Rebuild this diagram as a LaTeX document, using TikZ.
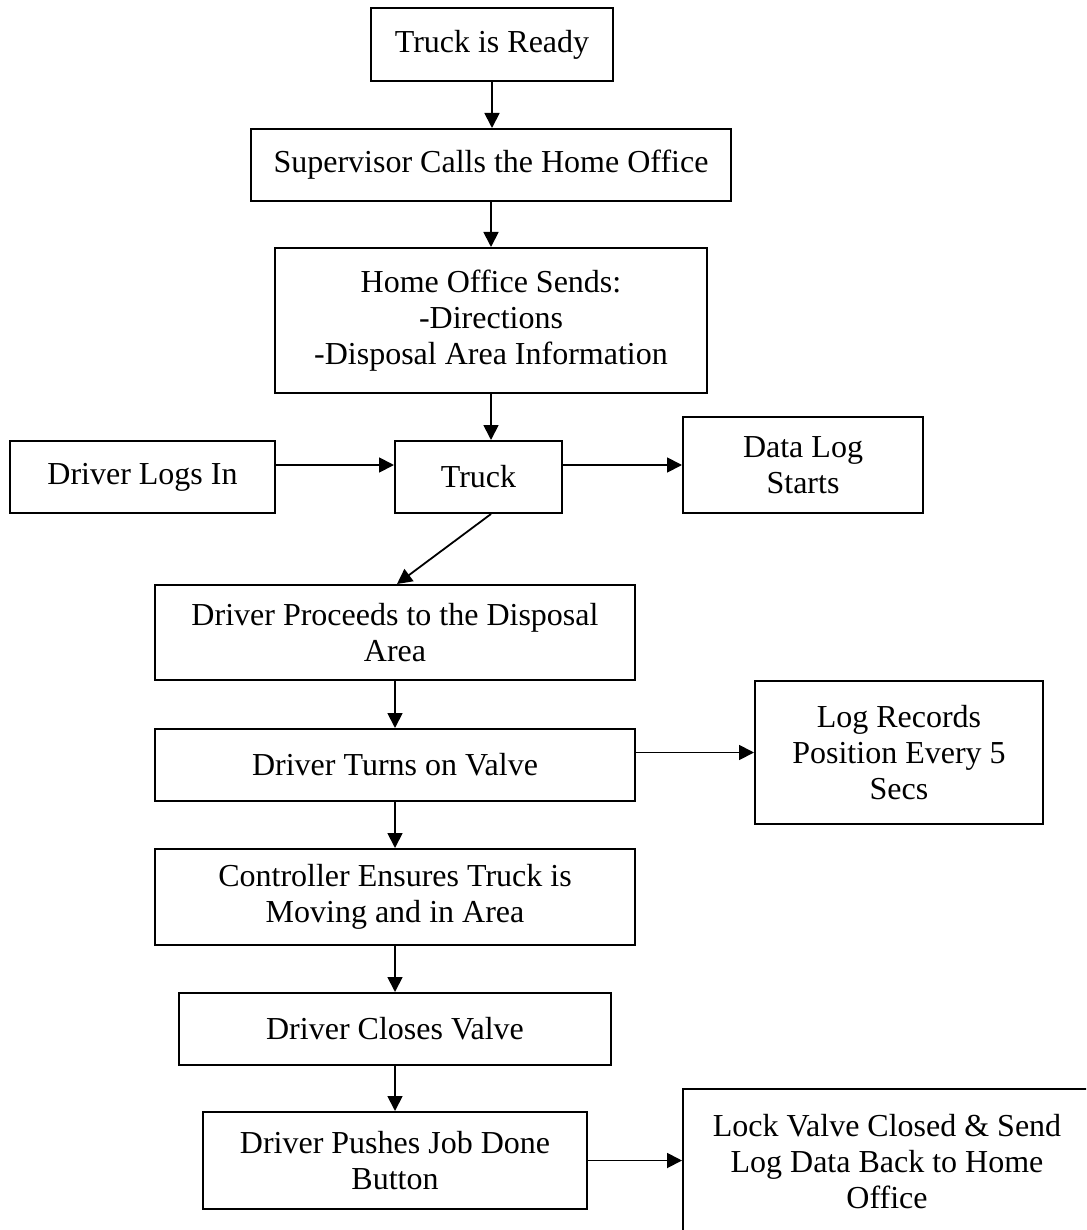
\documentclass[tikz,border=0pt]{standalone}
\usepackage{fontspec}
\setmainfont{Liberation Serif}
\usetikzlibrary{arrows.meta}
\begin{document}
\begin{tikzpicture}[x=0.5pt,y=-0.5pt,
  box/.style={draw,line width=1pt,rectangle,inner sep=0pt,align=center,
    font=\fontsize{16}{18}\selectfont},
  arr/.style={line width=0.9pt,-{Triangle[length=7.5pt,width=7.5pt]}}]
\clip (0,0) rectangle (1086,1230);
\useasboundingbox (0,0) rectangle (1086,1230);
\node[box,minimum width=121pt,minimum height=36.5pt] (b1) at (492,44.5) {Truck is Ready};
\node[box,minimum width=240pt,minimum height=36pt] (b2) at (491,165) {Supervisor Calls the Home Office};
\node[box,minimum width=216pt,minimum height=72.5pt] (b3) at (491,320.5) {Home Office Sends:\\-Directions\\-Disposal Area Information};
\node[box,minimum width=132.5pt,minimum height=36pt] (b4) at (142.5,477) {Driver Logs In};
\node[box,minimum width=83.5pt,minimum height=36pt] (b5) at (478.5,477) {Truck};
\node[box,minimum width=120pt,minimum height=48pt] (b6) at (803,465) {Data Log\\Starts};
\node[box,minimum width=240pt,minimum height=47.5pt] (b7) at (395,632.5) {Driver Proceeds to the Disposal\\Area};
\node[box,minimum width=144pt,minimum height=71.5pt] (b8) at (899,752.5) {Log Records\\Position Every 5\\Secs};
\node[box,minimum width=240pt,minimum height=36pt] (b9) at (395,765) {Driver Turns on Valve};
\node[box,minimum width=240pt,minimum height=48pt] (b10) at (395,897) {Controller Ensures Truck is\\Moving and in Area};
\node[box,minimum width=216pt,minimum height=36pt] (b11) at (395,1029) {Driver Closes Valve};
\node[box,minimum width=192pt,minimum height=48.5pt] (b12) at (395,1160.5) {Driver Pushes Job Done\\Button};
\node[box,minimum width=204pt,minimum height=73pt] (b13) at (887,1162) {Lock Valve Closed \& Send\\Log Data Back to Home\\Office};
\draw[arr] (b1.south) -- (b1.south |- b2.north);
\draw[arr] (b2.south) -- (b2.south |- b3.north);
\draw[arr] (b3.south) -- (b3.south |- b5.north);
\draw[arr] (b4.east |- b6) -- (b5.west |- b6);
\draw[arr] (b5.east |- b6) -- (b6.west);
\draw[arr] (b3.south |- b5.south) -- ([xshift=1pt]b7.north);
\draw[arr] (b7.south) -- (b9.north);
\draw[arr] (b9.east |- b8) -- (b8.west);
\draw[arr] (b9.south) -- (b10.north);
\draw[arr] (b10.south) -- (b11.north);
\draw[arr] (b11.south) -- (b12.north);
\draw[arr] (b12.east) -- (b12.east -| b13.west);
\end{tikzpicture}
\end{document}
